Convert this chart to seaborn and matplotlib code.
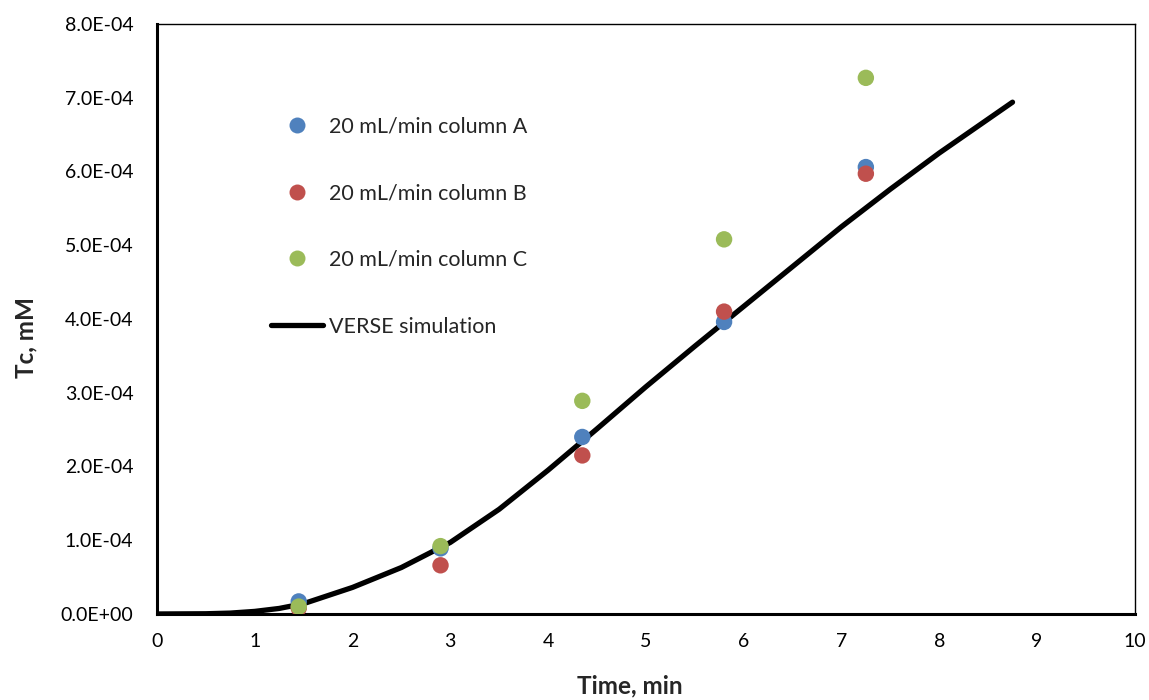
import matplotlib
matplotlib.use("Agg")
import matplotlib.pyplot as plt
import matplotlib.ticker as mticker
from matplotlib.lines import Line2D
import pandas as pd
import seaborn as sns

# experimental points (time in min, Tc in mM)
time_exp = [1.45, 2.9, 4.35, 5.8, 7.25]
col_a = [1.7e-5, 8.9e-5, 2.40e-4, 3.96e-4, 6.06e-4]
col_b = [0.8e-5, 6.6e-5, 2.15e-4, 4.10e-4, 5.97e-4]
col_c = [1.0e-5, 9.2e-5, 2.89e-4, 5.08e-4, 7.27e-4]
series_names = ["20 mL/min column A", "20 mL/min column B", "20 mL/min column C"]
colors = ["#4F81BD", "#C0504D", "#9BBB59"]

# VERSE simulation curve
time_sim = [0, 0.5, 0.75, 1, 1.25, 1.5, 2, 2.5, 3, 3.5, 4, 4.5, 5, 5.5, 6, 6.5, 7, 7.5, 8, 8.5, 8.75]
tc_sim = [0, 0.003e-4, 0.012e-4, 0.035e-4, 0.075e-4, 0.14e-4, 0.36e-4, 0.63e-4, 0.97e-4,
          1.42e-4, 1.95e-4, 2.51e-4, 3.08e-4, 3.63e-4, 4.17e-4, 4.71e-4, 5.25e-4, 5.76e-4,
          6.25e-4, 6.71e-4, 6.94e-4]

sns.set_theme(style="white")
plt.rcParams["font.family"] = ["Lato", "DejaVu Sans"]

exp_df = pd.DataFrame({
    "time": time_exp * 3,
    "tc": col_a + col_b + col_c,
    "series": [s for s in series_names for _ in time_exp],
})
sim_df = pd.DataFrame({"time": time_sim, "tc": tc_sim})

fig = plt.figure(figsize=(11.49, 7.0), dpi=100)
ax = fig.add_axes([0.1366, 0.1229, 0.851, 0.8428])

sns.lineplot(data=sim_df, x="time", y="tc", color="black", linewidth=3.8, ax=ax, zorder=2)
sns.scatterplot(data=exp_df, x="time", y="tc", hue="series", palette=colors,
                s=140, linewidth=0, ax=ax, zorder=3, legend=False)

ax.set_xlim(0, 10)
ax.set_ylim(0, 8e-4)
ax.xaxis.set_major_locator(mticker.MultipleLocator(1))
ax.yaxis.set_major_locator(mticker.MultipleLocator(1e-4))
ax.yaxis.set_major_formatter(mticker.FuncFormatter(lambda v, p: "{:.1E}".format(v)))
ax.tick_params(direction="in", length=6, width=1.2, labelsize=14, colors="black")
ax.tick_params(axis="y", pad=17)
ax.tick_params(axis="x", pad=14)

for side in ["left", "bottom"]:
    ax.spines[side].set_linewidth(2.2)
for side in ["top", "right"]:
    ax.spines[side].set_linewidth(1.0)
for sp in ax.spines.values():
    sp.set_color("black")

ax.set_xlabel("Time, min", fontsize=17.5, fontweight="bold")
ax.set_ylabel("Tc, mM", fontsize=17.5, fontweight="bold")
ax.xaxis.set_label_coords(0.484, -0.122)
ax.xaxis.label.set_va("center")
ax.yaxis.set_label_coords(-0.134, 0.469)
ax.yaxis.label.set_va("center")

handles = [Line2D([], [], marker="o", linestyle="none", markersize=11.5,
                  markerfacecolor=c, markeredgewidth=0) for c in colors]
handles.append(Line2D([], [], color="black", linewidth=3.8))
ax.legend(handles, series_names + ["VERSE simulation"], loc="upper left",
          bbox_to_anchor=(0.097, 0.876), frameon=False, fontsize=15.5,
          labelspacing=2.17, handlelength=2.4, handletextpad=0.3)

fig.savefig("out.png", dpi=100)
